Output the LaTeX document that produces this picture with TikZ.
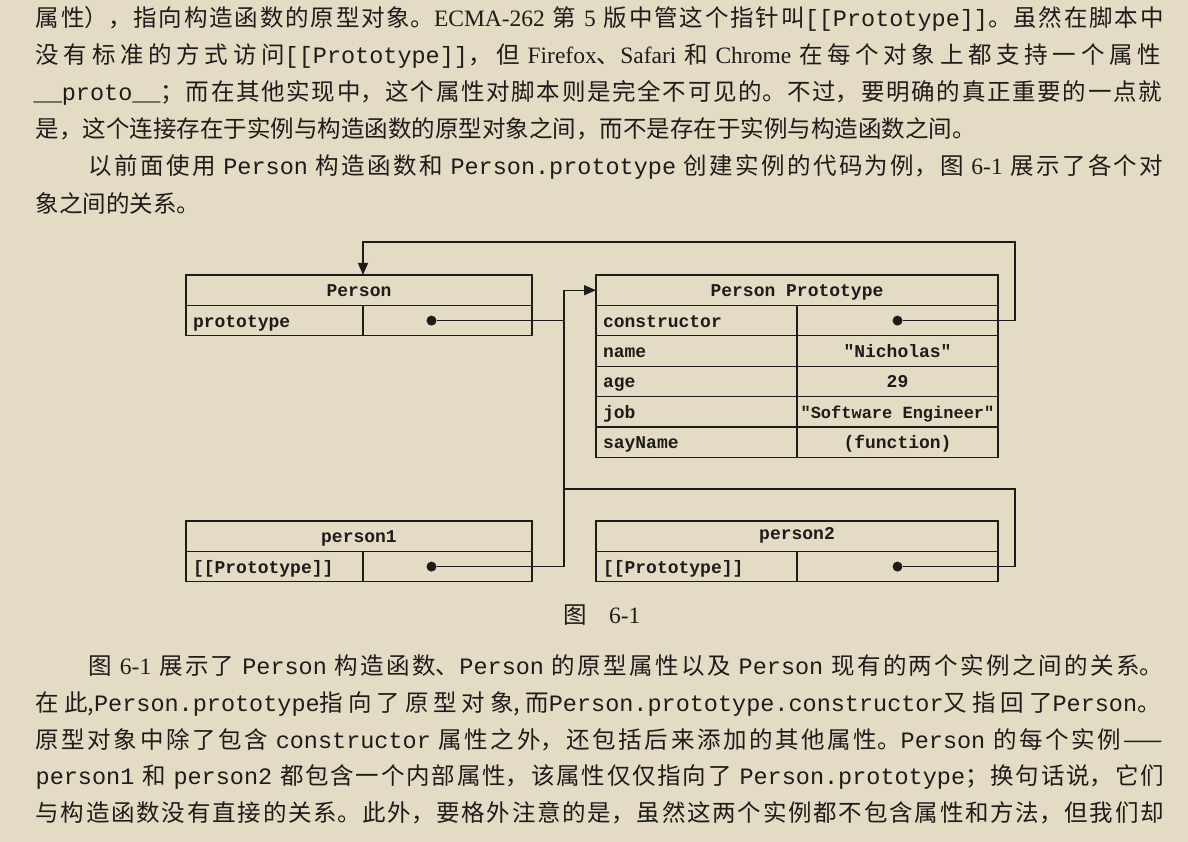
\documentclass[tikz,border=0pt]{standalone}
\usepackage{fontspec}
\setmainfont{Noto Sans CJK SC}
\setmonofont{Liberation Mono}
\newfontfamily\rom{Liberation Serif}
\usetikzlibrary{arrows.meta,positioning}

\definecolor{paper}{RGB}{228,219,197}
\definecolor{ink}{RGB}{30,28,26}

\XeTeXlinebreaklocale "zh"
\XeTeXlinebreakskip=0pt plus 1fil

\newcommand{\boxfont}{\fontsize{18}{20}\selectfont\ttfamily\bfseries}

\begin{document}
\begin{tikzpicture}[x=1pt,y=-1pt,>={Triangle[length=12pt,width=10pt]},
                    line width=1.3pt,color=ink,
    cell/.style={draw,outer sep=0pt,inner sep=0pt,minimum height=30.4pt,
                 text height=15pt,text depth=2pt,font=\boxfont},
    head/.style={cell,minimum width=#1},
    field/.style={cell,text width=#1,inner xsep=7pt,align=left},
    slot/.style={cell,minimum width=#1},
    dot/.style={circle,fill=ink,inner sep=0pt,minimum size=10pt},
    para/.style={anchor=base west,inner sep=0pt,font=\fontsize{23.5}{28}\selectfont},
    jline/.style={para,text width=#1}]

    \fill[paper] (0,0) rectangle (1188,842);

    % text above the figure
    \node[jline=1130pt] (t1) at (35,26.5) {\noindent\parfillskip=0pt 属性），指向构造函数的原型对象。{\rom ECMA-262} 第 {\rom 5} 版中管这个指针叫\texttt{[[Prototype]]}。虽然在脚本中};
    \node[jline=1130pt] (t2) at (35,63.5) {\noindent\parfillskip=0pt 没有标准的方式访问\texttt{[[Prototype]]}，但 {\rom Firefox}、{\rom Safari} 和 {\rom Chrome} 在每个对象上都支持一个属性};
    \node[jline=1130pt] (t3) at (33,101) {\noindent\parfillskip=0pt \texttt{\_\_proto\_\_}；而在其他实现中，这个属性对脚本则是完全不可见的。不过，要明确的真正重要的一点就};
    \node[para] (t4) at (35,138) {是，这个连接存在于实例与构造函数的原型对象之间，而不是存在于实例与构造函数之间。};
    \node[jline=1077pt] (t5) at (88,175) {\noindent\parfillskip=0pt 以前面使用 \texttt{Person} 构造函数和 \texttt{Person.prototype} 创建实例的代码为例，图 {\rom 6-1} 展示了各个对};
    \node[para] (t6) at (35,213) {象之间的关系。};

    % Person
    \node[head=346pt] (person) at (359,290.2) {Person};
    \node[field=163pt,anchor=north west] (pkey) at (person.south west) {prototype};
    \node[slot=169pt,right=0pt of pkey] (pval) {};
    \node[dot] (pdot) at ([xshift=-16pt]pval.center) {};

    % Person Prototype
    \node[head=402pt] (ptype) at (797,290.2) {Person Prototype};
    \node[field=187pt,anchor=north west] (ctor) at (ptype.south west) {constructor};
    \node[field=187pt,below=0pt of ctor] (name) {name};
    \node[field=187pt,below=0pt of name] (age) {age};
    \node[field=187pt,below=0pt of age] (job) {job};
    \node[field=187pt,below=0pt of job] (say) {sayName};
    \node[slot=201pt,right=0pt of ctor] (ctorval) {};
    \node[slot=201pt,right=0pt of name] (nameval) {"Nicholas"};
    \node[slot=201pt,right=0pt of age] (ageval) {29};
    \node[slot=201pt,right=0pt of job] (jobval) {\fontsize{17}{20}\selectfont"Software Engineer"};
    \node[slot=201pt,right=0pt of say] (sayval) {(function)\hspace{30pt}};
    \node[dot] (cdot) at (ctorval.center) {};

    % person1 and person2
    \node[head=346pt] (p1) at (359,536.2) {person1};
    \node[field=163pt,anchor=north west] (p1key) at (p1.south west) {[[Prototype]]};
    \node[slot=169pt,right=0pt of p1key] (p1val) {};
    \node[dot] (p1dot) at ([xshift=-16pt]p1val.center) {};

    \node[head=402pt,text depth=8pt] (p2) at (797,536.2) {person2};
    \node[field=187pt,anchor=north west] (p2key) at (p2.south west) {[[Prototype]]};
    \node[slot=201pt,right=0pt of p2key] (p2val) {};
    \node[dot] (p2dot) at (p2val.center) {};

    \coordinate (bus) at (564,489);
    \coordinate (busr) at (1015,489);
    \coordinate (loop) at (1015,242);

    % pointers
    \draw (pdot) -- (pdot -| bus);
    \draw[->] (p1dot) -| (bus) |- (ptype);
    \draw (p2dot) -| (busr) -- (bus);
    \draw[->] (cdot) -| (loop) -| (person.north -| pval.west);

    \node[para] (cap) at (563,623) {图\hspace{22pt}{\rom 6-1}};

    % text below the figure
    \node[jline=1077pt] (b1) at (88,674) {\noindent\parfillskip=0pt 图 {\rom 6-1} 展示了 \texttt{Person} 构造函数、\texttt{Person} 的原型属性以及 \texttt{Person} 现有的两个实例之间的关系。};
    \node[jline=1130pt] (b2) at (35,711) {\noindent\parfillskip=0pt 在此,\texttt{Person.prototype}指向了原型对象,而\texttt{Person.prototype.constructor}又指回了\texttt{Person}。};
    \node[jline=1130pt] (b3) at (35,748) {\noindent\parfillskip=0pt 原型对象中除了包含 \texttt{constructor} 属性之外，还包括后来添加的其他属性。\texttt{Person} 的每个实例——};
    \node[jline=1130pt] (b4) at (35,784) {\noindent\parfillskip=0pt \texttt{person1} 和 \texttt{person2} 都包含一个内部属性，该属性仅仅指向了 \texttt{Person.prototype}；换句话说，它们};
    \node[jline=1130pt] (b5) at (35,821) {\noindent\parfillskip=0pt 与构造函数没有直接的关系。此外，要格外注意的是，虽然这两个实例都不包含属性和方法，但我们却};
\end{tikzpicture}
\end{document}
